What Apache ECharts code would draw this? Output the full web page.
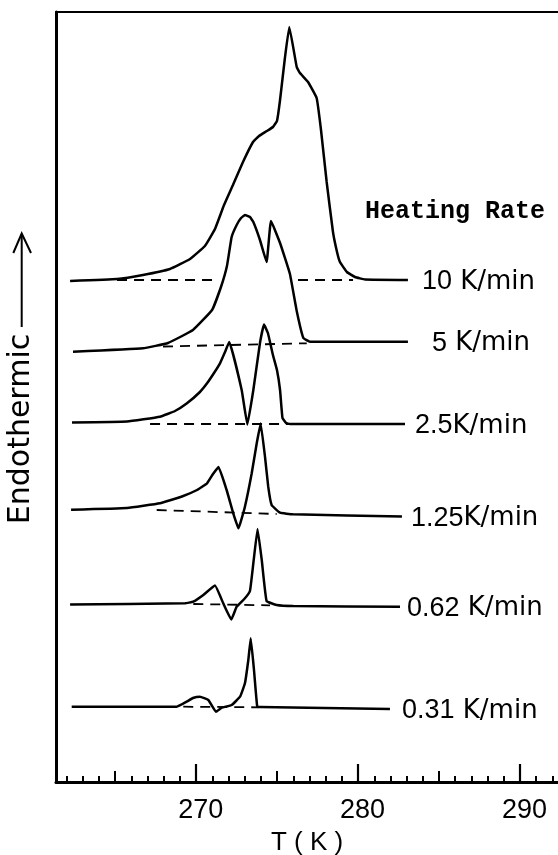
<!DOCTYPE html>
<html><head><meta charset="utf-8">
<script src="https://cdn.jsdelivr.net/npm/echarts@6/dist/echarts.min.js"></script>
<style>html,body{margin:0;padding:0;background:#fff}#c{width:558px;height:855px}</style>
</head><body><div id="c"></div><script>
// ---- data (temperature in K, endothermic signal in arbitrary units) ----
const rateLabels = ['10 K/min', '5 K/min', '2.5K/min', '1.25K/min', '0.62 K/min', '0.31 K/min'];

const temps10 = [262.21, 265.11, 266.71, 268.38, 269.62, 270.54, 271.16, 271.72, 272.27, 272.89, 273.51, 273.88, 274.37, 274.74, 274.99, 275.18, 275.48, 275.75, 276.21, 276.41, 276.91, 277.44, 277.71, 278.06, 278.45, 278.70, 278.88, 279.31, 279.81, 280.43, 283.08];
const heat10  = [50.1, 50.3, 50.7, 51.3, 52.3, 53.6, 55.3, 57.7, 59.7, 62.0, 64.0, 64.6, 65.1, 65.5, 66.1, 68.2, 72.4, 75.5, 71.5, 70.9, 70.0, 68.4, 65.2, 60.0, 55.0, 53.0, 52.0, 51.0, 50.5, 50.25, 50.2];

const temps5 = [262.39, 266.71, 268.26, 269.80, 270.98, 271.53, 271.90, 272.19, 272.50, 272.77, 273.01, 273.32, 273.53, 273.94, 274.35, 274.62, 275.18, 275.79, 276.21, 276.62, 277.03, 283.08];
const heat5  = [43.03, 43.37, 43.9, 45.2, 47.2, 49.5, 51.6, 54.5, 55.7, 56.4, 56.7, 56.5, 56.0, 54.2, 52.0, 56.1, 53.9, 50.8, 47.1, 44.4, 44.03, 44.03];

const temps25 = [262.33, 265.73, 267.76, 268.69, 269.43, 270.23, 270.67, 271.10, 271.47, 271.78, 272.04, 272.81, 273.16, 273.53, 273.94, 274.19, 274.43, 274.74, 274.99, 275.18, 275.33, 275.55, 275.79, 282.90];
const heat25  = [35.95, 36.05, 36.53, 37.1, 37.87, 39.0, 39.87, 40.9, 41.87, 43.0, 44.0, 39.2, 35.75, 39.2, 43.9, 45.75, 44.9, 42.7, 41.2, 39.2, 36.4, 35.9, 35.8, 35.8];

const temps125 = [262.27, 265.73, 267.76, 269.12, 270.05, 270.67, 271.04, 271.38, 271.88, 272.29, 272.61, 273.01, 273.43, 273.74, 273.98, 274.25, 274.45, 274.66, 275.18, 275.98, 282.71];
const heat125  = [27.23, 27.4, 27.87, 28.55, 29.2, 29.87, 30.8, 31.5, 29.2, 26.87, 25.37, 27.53, 30.87, 33.87, 35.85, 32.53, 29.53, 27.7, 26.93, 26.77, 26.55];

const temps062 = [262.21, 269.31, 269.82, 270.44, 271.16, 271.67, 272.17, 272.50, 273.01, 273.32, 273.53, 273.79, 274.05, 274.35, 274.97, 276.00, 282.59];
const heat062  = [17.75, 17.87, 18.03, 18.7, 19.65, 17.87, 16.25, 17.53, 18.37, 19.1, 21.87, 25.3, 22.2, 18.1, 17.7, 17.6, 17.53];

const temps031 = [262.31, 268.80, 269.41, 269.80, 270.23, 270.75, 271.22, 271.58, 272.19, 272.71, 273.01, 273.22, 273.37, 273.57, 273.77, 273.94, 281.97];
const heat031  = [7.53, 7.53, 8.03, 8.4, 8.53, 8.2, 7.03, 7.43, 7.7, 8.53, 9.87, 12.2, 14.37, 11.2, 7.53, 7.5, 7.3];

// dashed interpolated baselines (segments)
const baseT10a = [265.11, 271.28], baseY10a = [50.2, 50.2];
const baseT10b = [276.29, 279.69], baseY10b = [50.2, 50.2];
const baseT5 = [267.95, 276.83], baseY5 = [43.55, 43.87];
const baseT25 = [267.15, 275.79], baseY25 = [35.8, 35.8];
const baseT125 = [267.56, 274.97], baseY125 = [27.2, 26.8];
const baseT062 = [269.82, 274.56], baseY062 = [17.8, 17.67];
const baseT031 = [269.20, 273.84], baseY031 = [7.53, 7.47];

// axis ticks
const majorTicks = [270, 280, 290];
const midTicks = [265, 275, 285];
const minorTicks = [262, 263, 264, 266, 267, 268, 269, 271, 272, 273, 274, 276, 277, 278, 279, 281, 282, 283, 284, 286, 287, 288, 289, 291, 292];

// ---- build ----
const zip = (a, b) => a.map((v, i) => [v, b[i]]);
const curves = [
  [temps10, heat10], [temps5, heat5], [temps25, heat25],
  [temps125, heat125], [temps062, heat062], [temps031, heat031]
];
const bases = [
  [baseT10a, baseY10a], [baseT10b, baseY10b], [baseT5, baseY5], [baseT25, baseY25],
  [baseT125, baseY125], [baseT062, baseY062], [baseT031, baseY031]
];
const labelGap = [14, 24, 10, 9, 7, 12];
const richLabel = (s) => s.replace(/^([\d.]+)(\s*)(K\/min)$/, '{n|$1}$2{u|$3}');

const series = [];
curves.forEach((c, i) => {
  series.push({
    type: 'line', name: rateLabels[i], data: zip(c[0], c[1]), symbol: 'none', smooth: 0.1,
    lineStyle: { color: '#000', width: 2.5 }, z: 3,
    endLabel: {
      show: true, formatter: richLabel(rateLabels[i]), distance: labelGap[i], offset: [0, 2],
      color: '#000', fontFamily: 'DejaVu Sans', fontSize: 26,
      rich: {
        n: { fontFamily: 'Liberation Sans', fontSize: 27, color: '#000' },
        u: { fontFamily: 'DejaVu Sans', fontSize: 26, color: '#000' }
      }
    }
  });
});
bases.forEach((b) => {
  series.push({
    type: 'line', data: zip(b[0], b[1]), symbol: 'none', silent: true,
    lineStyle: { color: '#000', width: 1.8, type: [10, 7] }, z: 2
  });
});

const xRange = { min: 261.34, max: 292.35 };
const chart = echarts.init(document.getElementById('c'), null, { renderer: 'canvas' });
chart.setOption({
  animation: false,
  backgroundColor: '#fff',
  grid: { left: 56, right: 0, top: 12, bottom: 73, containLabel: false, outerBoundsMode: 'none' },
  xAxis: [
    {
      type: 'value', position: 'bottom', ...xRange,
      axisLine: { show: true, lineStyle: { color: '#000', width: 3 } },
      axisTick: { show: true, inside: true, length: 18, customValues: majorTicks, lineStyle: { color: '#000', width: 2.2 } },
      axisLabel: { show: true, customValues: majorTicks, margin: 15, padding: [0, 0, 0, 9], color: '#000', fontFamily: 'Liberation Sans', fontSize: 27 },
      splitLine: { show: false },
      name: 'T ( K )', nameLocation: 'middle', nameGap: 48,
      nameTextStyle: { color: '#000', fontFamily: 'Liberation Sans', fontSize: 26 }
    },
    {
      type: 'value', position: 'bottom', ...xRange,
      axisLine: { show: false },
      axisTick: { show: true, inside: true, length: 11, customValues: midTicks, lineStyle: { color: '#000', width: 2 } },
      axisLabel: { show: false }, splitLine: { show: false }
    },
    {
      type: 'value', position: 'bottom', ...xRange,
      axisLine: { show: false },
      axisTick: { show: true, inside: true, length: 6, customValues: minorTicks, lineStyle: { color: '#000', width: 2 } },
      axisLabel: { show: false }, splitLine: { show: false }
    },
    {
      type: 'value', position: 'top', ...xRange,
      axisLine: { show: true, lineStyle: { color: '#000', width: 2.2 } },
      axisTick: { show: false }, axisLabel: { show: false }, splitLine: { show: false }
    }
  ],
  yAxis: {
    type: 'value', min: 0, max: 77,
    axisLine: { show: true, lineStyle: { color: '#000', width: 3 } },
    axisTick: { show: false }, axisLabel: { show: false }, splitLine: { show: false }
  },
  graphic: [
    {
      type: 'text', x: 21, y: 429, rotation: Math.PI / 2,
      style: { text: 'Endothermic', fill: '#000', font: '30px "DejaVu Sans"', align: 'center', verticalAlign: 'middle' }
    },
    {
      type: 'polyline', shape: { points: [[21.7, 327], [21.7, 234]] },
      style: { stroke: '#000', lineWidth: 2, fill: null }
    },
    {
      type: 'polyline', shape: { points: [[13.3, 253], [21.7, 233.5], [31, 253]] },
      style: { stroke: '#000', lineWidth: 2, fill: null }
    },
    {
      type: 'text', x: 365, y: 212,
      style: { text: 'Heating Rate', fill: '#000', font: 'bold 25px "Liberation Mono"', align: 'left', verticalAlign: 'middle' }
    }
  ],
  series: series
});
</script></body></html>
